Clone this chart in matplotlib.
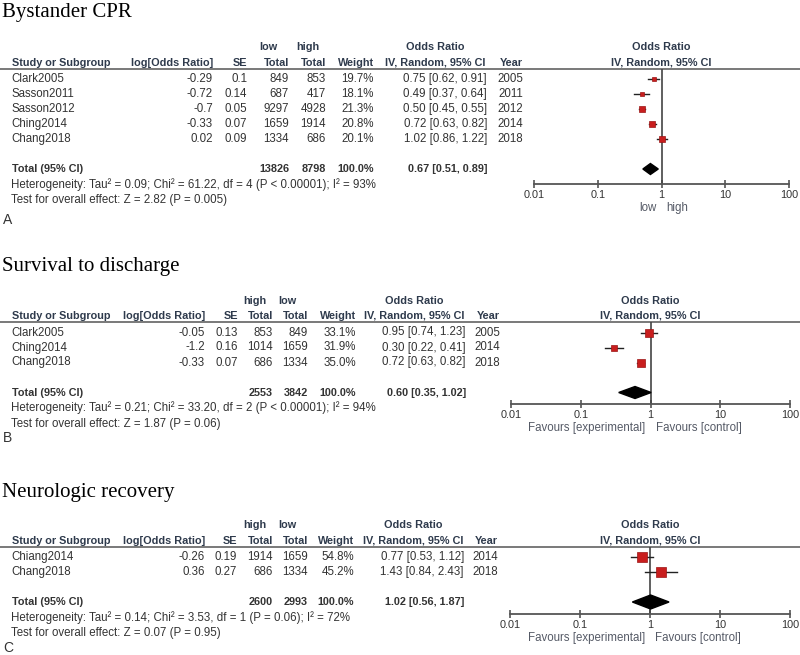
import numpy as np
import matplotlib
matplotlib.use("Agg")
import matplotlib.pyplot as plt

plt.rcParams["font.family"] = ["Liberation Sans", "DejaVu Sans"]

W, H = 800, 655
TXT = "#333333"
HDR = "#2e3a4c"
LINE = "#555555"
RED = "#c81e1e"

# ---- A: Bystander CPR ----
studies_a = ["Clark2005", "Sasson2011", "Sasson2012", "Ching2014", "Chang2018"]
logor_a = ["-0.29", "-0.72", "-0.7", "-0.33", "0.02"]
se_a = ["0.1", "0.14", "0.05", "0.07", "0.09"]
n1_a = [849, 687, 9297, 1659, 1334]
n2_a = [853, 417, 4928, 1914, 686]
weight_a = [19.7, 18.1, 21.3, 20.8, 20.1]
or_a = [0.75, 0.49, 0.50, 0.72, 1.02]
lo_a = [0.62, 0.37, 0.45, 0.63, 0.86]
hi_a = [0.91, 0.64, 0.55, 0.82, 1.22]
year_a = [2005, 2011, 2012, 2014, 2018]
total_a = (13826, 8798, 0.67, 0.51, 0.89)
groups_a = ("low", "high")
favours_a = ("low", "high")
het_a = "Heterogeneity: Tau² = 0.09; Chi² = 61.22, df = 4 (P < 0.00001); I² = 93%"
test_a = "Test for overall effect: Z = 2.82 (P = 0.005)"

# ---- B: Survival to discharge ----
studies_b = ["Clark2005", "Ching2014", "Chang2018"]
logor_b = ["-0.05", "-1.2", "-0.33"]
se_b = ["0.13", "0.16", "0.07"]
n1_b = [853, 1014, 686]
n2_b = [849, 1659, 1334]
weight_b = [33.1, 31.9, 35.0]
or_b = [0.95, 0.30, 0.72]
lo_b = [0.74, 0.22, 0.63]
hi_b = [1.23, 0.41, 0.82]
year_b = [2005, 2014, 2018]
total_b = (2553, 3842, 0.60, 0.35, 1.02)
groups_b = ("high", "low")
favours_b = ("Favours [experimental]", "Favours [control]")
het_b = "Heterogeneity: Tau² = 0.21; Chi² = 33.20, df = 2 (P < 0.00001); I² = 94%"
test_b = "Test for overall effect: Z = 1.87 (P = 0.06)"

# ---- C: Neurologic recovery ----
studies_c = ["Chiang2014", "Chang2018"]
logor_c = ["-0.26", "0.36"]
se_c = ["0.19", "0.27"]
n1_c = [1914, 686]
n2_c = [1659, 1334]
weight_c = [54.8, 45.2]
or_c = [0.77, 1.43]
lo_c = [0.53, 0.84]
hi_c = [1.12, 2.43]
year_c = [2014, 2018]
total_c = (2600, 2993, 1.02, 0.56, 1.87)
groups_c = ("high", "low")
favours_c = ("Favours [experimental]", "Favours [control]")
het_c = "Heterogeneity: Tau² = 0.14; Chi² = 3.53, df = 1 (P = 0.06); I² = 72%"
test_c = "Test for overall effect: Z = 0.07 (P = 0.95)"

ticks = [0.01, 0.1, 1, 10, 100]
tick_labels = ["0.01", "0.1", "1", "10", "100"]

fig = plt.figure(figsize=(W / 100, H / 100), dpi=100)
bg = fig.add_axes([0, 0, 1, 1])
bg.set_xlim(0, W)
bg.set_ylim(H, 0)
bg.axis("off")

FS_B = 7.8   # bold header / total text
FS = 8.3     # regular text


def fmt_ci(e, l, h):
    return f"{e:.2f} [{l:.2f}, {h:.2f}]"


def draw_panel(title, letter, studies, logor, se, n1, n2, weight, est, lo, hi, years,
               total, groups, favours, het, test, lay):
    ly = lay["line_y"]
    c = lay["cols"]
    bg.text(2, lay["title_base"], title, family="Liberation Serif", fontsize=15,
            color="black", va="baseline", ha="left")
    # header
    kw = dict(fontsize=FS_B, fontweight="bold", color=HDR, va="center")
    y1, y2 = ly - 21, ly - 6
    bg.text(c["t1"] - 30, y1, groups[0], ha="left", **kw)
    bg.text(c["t2"] - 30, y1, groups[1], ha="left", **kw)
    bg.text(c["ci_hdr"], y1, "Odds Ratio", ha="center", **kw)
    fxc = (lay["forest"][0] + lay["forest"][1]) / 2
    bg.text(fxc, y1, "Odds Ratio", ha="center", **kw)
    bg.text(c["study"], y2, "Study or Subgroup", ha="left", **kw)
    bg.text(c["logor"], y2, "log[Odds Ratio]", ha="right", **kw)
    bg.text(c["se"], y2, "SE", ha="right", **kw)
    bg.text(c["t1"], y2, "Total", ha="right", **kw)
    bg.text(c["t2"], y2, "Total", ha="right", **kw)
    bg.text(c["weight"], y2, "Weight", ha="right", **kw)
    bg.text(c["ci_hdr"], y2, "IV, Random, 95% CI", ha="center", **kw)
    bg.text(c["year"], y2, "Year", ha="right", **kw)
    bg.text(fxc, y2, "IV, Random, 95% CI", ha="center", **kw)
    bg.plot([0, W], [ly, ly], color=LINE, lw=1.1)

    rows = ly + 10.5 + 15 * np.arange(len(studies))
    rk = dict(fontsize=FS, color=TXT, va="center")
    for i, y in enumerate(rows):
        bg.text(c["study"] - 1, y, studies[i], ha="left", **rk)
        bg.text(c["logor"], y, logor[i], ha="right", **rk)
        bg.text(c["se"], y, se[i], ha="right", **rk)
        bg.text(c["t1"], y, f"{n1[i]}", ha="right", **rk)
        bg.text(c["t2"], y, f"{n2[i]}", ha="right", **rk)
        bg.text(c["weight"], y, f"{weight[i]:.1f}%", ha="right", **rk)
        bg.text(c["ci"], y, fmt_ci(est[i], lo[i], hi[i]), ha="right", **rk)
        bg.text(c["year"], y, f"{years[i]}", ha="right", **rk)

    ty = rows[-1] + 30
    bk = dict(fontsize=FS_B, color=TXT, va="center", fontweight="bold")
    bg.text(c["study"], ty, "Total (95% CI)", ha="left", **bk)
    bg.text(c["t1"], ty, f"{total[0]}", ha="right", **bk)
    bg.text(c["t2"], ty, f"{total[1]}", ha="right", **bk)
    bg.text(c["weight"], ty, "100.0%", ha="right", **bk)
    bg.text(c["ci"], ty, fmt_ci(*total[2:]), ha="right", **bk)
    bg.text(c["study"] - 1, ty + 15.5, het, ha="left", **rk)
    bg.text(c["study"] - 1, ty + 31, test, ha="left", **rk)
    bg.text(3, lay["letter_y"], letter, fontsize=10, color=TXT, va="center", ha="left")

    # forest
    x0, x1 = lay["forest"]
    ay = lay["axis_y"]
    ax = fig.add_axes([x0 / W, 1 - ay / H, (x1 - x0) / W, (ay - ly) / H])
    ax.patch.set_alpha(0)
    ax.set_xscale("log")
    ax.set_xlim(ticks[0], ticks[-1])
    ax.set_ylim(ay, ly)
    for s in ("top", "left", "right"):
        ax.spines[s].set_visible(False)
    ax.spines["bottom"].set_color(LINE)
    ax.spines["bottom"].set_linewidth(1.3)
    ax.set_yticks([])
    ax.set_xticks(ticks)
    ax.set_xticklabels(tick_labels)
    ax.minorticks_off()
    ax.tick_params(axis="x", direction="inout", length=6, width=1.2, color=LINE,
                   labelsize=FS_B, labelcolor=TXT, pad=1.5)
    ax.axvline(1, color="#444444", lw=1.2)
    for i, y in enumerate(rows):
        ax.plot([lo[i], hi[i]], [y, y], color="#222222", lw=1.0, clip_on=False)
        ms = (0.16 * weight[i] + 1.8) / 1.389
        ax.plot(est[i], y, marker="s", ms=ms, mfc=RED, mec="#9a1414", mew=0.5,
                clip_on=False, zorder=3)
    e, l, h = total[2:]
    hh = lay["dia_h"]
    ax.fill([l, e, h, e], [ty, ty - hh, ty, ty + hh], color="black", zorder=3,
            clip_on=False)
    vline_px = x0 + (x1 - x0) * 0.5
    fy = ay + 24
    fk = dict(fontsize=FS, color="#555a66", va="center")
    bg.text(vline_px - 5, fy, favours[0], ha="right", **fk)
    bg.text(vline_px + 5, fy, favours[1], ha="left", **fk)


cols_a = dict(study=12, logor=213, se=247, t1=289, t2=326, weight=374, ci=487,
              ci_hdr=435, year=523)
cols_b = dict(study=12, logor=205, se=238, t1=273, t2=308, weight=356, ci=466,
              ci_hdr=414, year=500)
cols_c = dict(study=12, logor=205, se=237, t1=273, t2=308, weight=354, ci=464,
              ci_hdr=413, year=498)

lay_a = dict(line_y=68.5, title_base=17, cols=cols_a, forest=(534, 789), axis_y=184,
             letter_y=220, dia_h=5.5)
lay_b = dict(line_y=322, title_base=271, cols=cols_b, forest=(511, 790), axis_y=404,
             letter_y=438, dia_h=6)
lay_c = dict(line_y=546.5, title_base=497, cols=cols_c, forest=(510, 790), axis_y=614,
             letter_y=648, dia_h=7)

draw_panel("Bystander CPR", "A", studies_a, logor_a, se_a, n1_a, n2_a, weight_a,
           or_a, lo_a, hi_a, year_a, total_a, groups_a, favours_a, het_a, test_a, lay_a)
draw_panel("Survival to discharge", "B", studies_b, logor_b, se_b, n1_b, n2_b, weight_b,
           or_b, lo_b, hi_b, year_b, total_b, groups_b, favours_b, het_b, test_b, lay_b)
draw_panel("Neurologic recovery", "C", studies_c, logor_c, se_c, n1_c, n2_c, weight_c,
           or_c, lo_c, hi_c, year_c, total_c, groups_c, favours_c, het_c, test_c, lay_c)

fig.savefig("out.png", dpi=100)
